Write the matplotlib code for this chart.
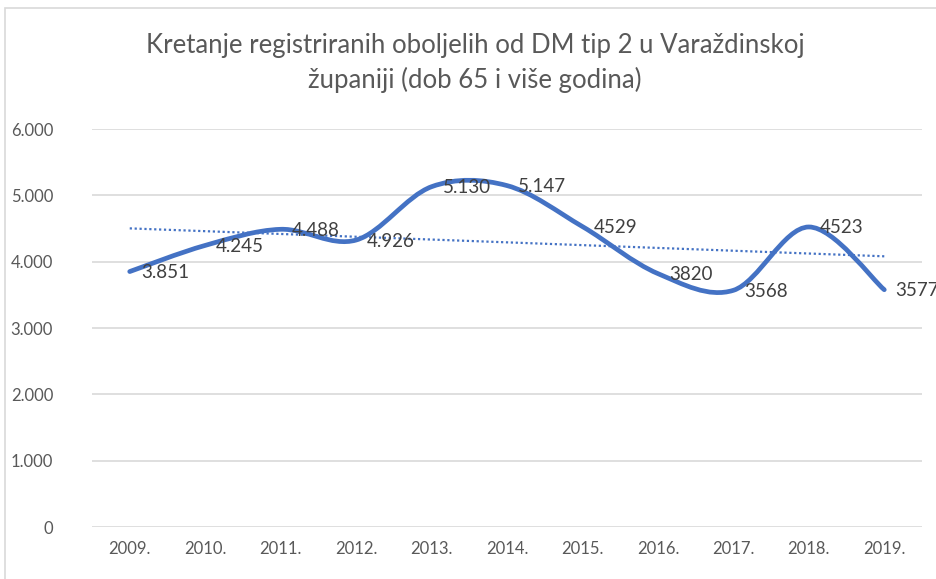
import numpy as np
import matplotlib
matplotlib.use('Agg')
import matplotlib.pyplot as plt
from matplotlib.path import Path
from matplotlib.patches import PathPatch, Rectangle
from matplotlib.ticker import FixedLocator

years = ['2009.', '2010.', '2011.', '2012.', '2013.', '2014.',
         '2015.', '2016.', '2017.', '2018.', '2019.']
values = [3851, 4245, 4488, 4326, 5130, 5147, 4529, 3820, 3568, 4523, 3577]
point_labels = ['3.851', '4.245', '4.488', '4.926', '5.130', '5.147',
                '4529', '3820', '3568', '4523', '3577']
y_ticks = [0, 1000, 2000, 3000, 4000, 5000, 6000]
y_tick_labels = ['0', '1.000', '2.000', '3.000', '4.000', '5.000', '6.000']

title = ('Kretanje registriranih oboljelih od DM tip 2 u Varaždinskoj\n'
         'županiji (dob 65 i više godina)')

BLUE = '#4472C4'
GRID = '#D9D9D9'
TEXT = '#595959'

plt.rcParams['font.family'] = ['Lato', 'DejaVu Sans']


def smooth_path(xs, ys):
    # Excel-style smoothed line: cubic bezier through every point
    verts = [(xs[0], ys[0])]
    codes = [Path.MOVETO]
    n = len(xs)
    for i in range(n - 1):
        x0, y0 = xs[max(i - 1, 0)], ys[max(i - 1, 0)]
        x1, y1 = xs[i], ys[i]
        x2, y2 = xs[i + 1], ys[i + 1]
        x3, y3 = xs[min(i + 2, n - 1)], ys[min(i + 2, n - 1)]
        c1 = (x1 + (x2 - x0) / 6, y1 + (y2 - y0) / 6)
        c2 = (x2 - (x3 - x1) / 6, y2 - (y3 - y1) / 6)
        verts += [c1, c2, (x2, y2)]
        codes += [Path.CURVE4] * 3
    return Path(verts, codes)


fig = plt.figure(figsize=(9.37, 5.79), dpi=100)
fig.patches.append(Rectangle((5 / 937, -0.1), 1.2, 1 - 8 / 579 + 0.1,
                             transform=fig.transFigure, fill=False,
                             edgecolor=GRID, lw=1.2))

ax = fig.add_axes([92 / 937, 1 - 527 / 579, 830 / 937, 398 / 579])
x = np.arange(len(years))

ax.add_patch(PathPatch(smooth_path(x, values), fill=False, edgecolor=BLUE,
                       lw=3.4, capstyle='round', joinstyle='round', zorder=3))

slope, icpt = np.polyfit(x, values, 1)
ax.plot([x[0], x[-1]], [icpt + slope * x[0], icpt + slope * x[-1]],
        color=BLUE, lw=1.6, ls=(0, (1, 1.2)), zorder=2)

for xi, v, lab in zip(x, values, point_labels):
    ax.annotate(lab, (xi, v), xytext=(11, -1), textcoords='offset pixels',
                ha='left', va='center', fontsize=13.5, color='#404040',
                zorder=4, annotation_clip=False)

ax.set_xlim(-0.5, len(years) - 0.5)
ax.set_ylim(0, 6000)
ax.set_xticks(x)
ax.set_xticklabels(years)
ax.yaxis.set_major_locator(FixedLocator(y_ticks))
ax.set_yticklabels(y_tick_labels)
ax.tick_params(length=0, colors=TEXT, labelsize=12)
ax.tick_params(axis='y', pad=28)
ax.tick_params(axis='x', pad=10)
ax.grid(axis='y', color=GRID, lw=1.2)
ax.set_axisbelow(True)
for s in ax.spines.values():
    s.set_visible(False)

fig.text(475 / 937, 1 - 63 / 579, title, ha='center', va='center',
         fontsize=18.5, color=TEXT, linespacing=1.45)

fig.savefig('out.png', dpi=100)
